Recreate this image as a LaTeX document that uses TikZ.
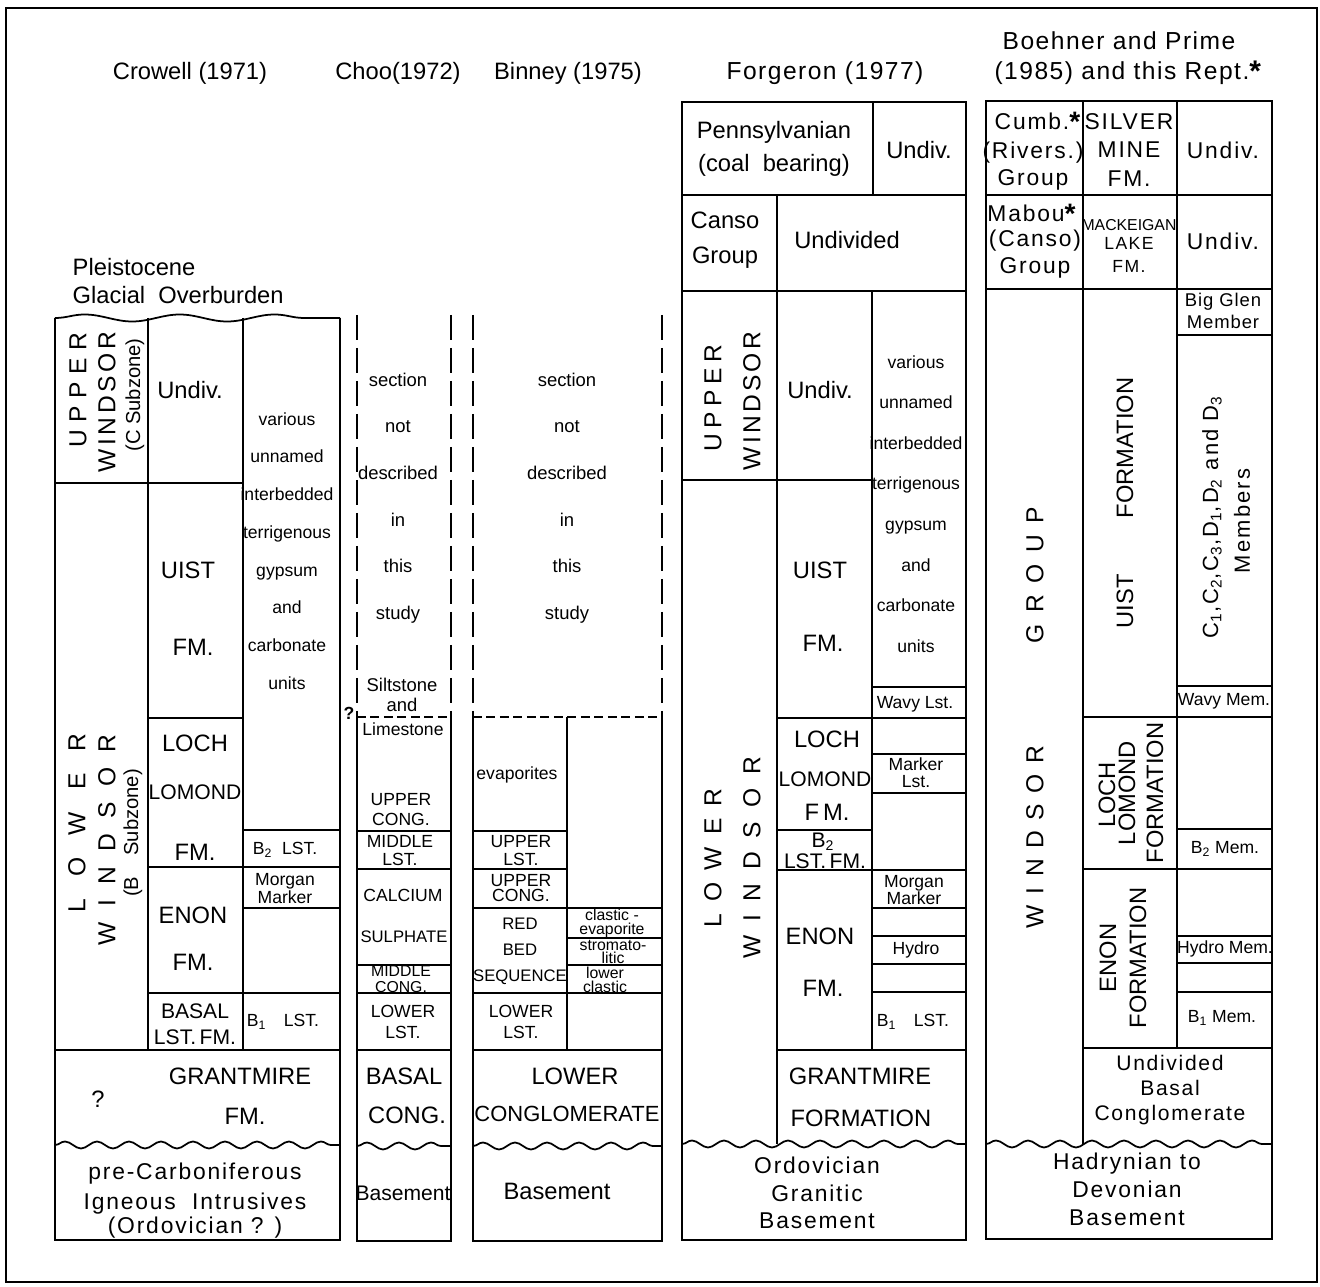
\documentclass[tikz,border=0pt]{standalone}
\usepackage{fontspec}
\setmainfont{Liberation Sans}
\usetikzlibrary{decorations.pathmorphing}

\tikzset{
  ttl/.style={font=\fontsize{13.5}{16}\selectfont},
  ttlb/.style={font=\fontsize{14}{16}\selectfont\addfontfeature{LetterSpace=6}},
  unit/.style={font=\fontsize{13.5}{#1}\selectfont},
  unit/.default=16,
  midf/.style={font=\fontsize{12}{#1}\selectfont},
  midf/.default=14,
  sm/.style={font=\fontsize{10}{#1}\selectfont},
  sm/.default=11,
  xs/.style={font=\fontsize{9}{#1}\selectfont},
  xs/.default=9,
  wide/.style={font=\fontsize{13}{#1}\selectfont\addfontfeature{LetterSpace=8}},
  wide/.default=15,
  vert/.style={rotate=90, font=\fontsize{14}{14}\selectfont\addfontfeature{LetterSpace=#1}},
  vert/.default=0,
  wavy/.style={decorate, decoration={snake, segment length=0.64cm, amplitude=0.07cm}},
  dashv/.style={dash pattern=on 0.5cm off 0.16cm},
  dashh/.style={dash pattern=on 0.18cm off 0.09cm},
}

\begin{document}
\begin{tikzpicture}[x=0.02cm, y=-0.02cm, line width=1pt]
  \useasboundingbox (0,0) rectangle (1320,1287);
  \draw[line width=1.2pt] (6,8) rectangle (1317,1282);

  % titles
  \node[ttl] (crowell) at (190,73) {Crowell (1971)};
  \node[ttl] (choo) at (398,73) {Choo(1972)};
  \node[ttl] (binney) at (568,73) {Binney (1975)};
  \node[ttlb] (forgeron) at (825,73) {Forgeron (1977)};
  \node[ttlb] (boehner) at (1119,41) {Boehner and Prime};
  \node[ttlb] (rept) at (1122,73) {(1985) and this Rept.\rlap{\raisebox{-1pt}{\fontsize{17}{17}\selectfont\textbf{*}}}};
  \node[ttl, anchor=west] (pleist) at (66,267) {Pleistocene};
  \node[ttl, anchor=west] (glacial) at (66,295) {Glacial\ \ Overburden};

  % Crowell (1971)
  \draw (55,318) -- (55,1240) -- (340,1240) -- (340,318);
  \draw[decorate, decoration={snake, segment length=1.9cm, amplitude=0.07cm}] (55,318) -- (340,318);
  \draw (148,318) -- (148,1050) (243,318) -- (243,1050);
  \draw (55,483) -- (243,483) (148,718) -- (243,718) (243,830) -- (340,830)
        (148,867) -- (340,867) (243,908) -- (340,908) (148,993) -- (340,993)
        (55,1050) -- (340,1050);
  \draw[wavy] (55,1145) -- (340,1145);

  \node[vert=30] (cuw1) at (78,390) {UPPER};
  \node[vert=15] (cuw2) at (107,402) {WINDSOR};
  \node[rotate=90, font=\fontsize{11.5}{12}\selectfont] (cuw3) at (135,395) {(C Subzone)};
  \node[vert=90] (clw1) at (77,823) {LOWER};
  \node[vert=62] (clw2) at (107,840) {WINDSOR};
  \node[rotate=90, font=\fontsize{11.5}{12}\selectfont] (clw3) at (133,833) {(B\hspace{12pt}Subzone)};
  \node[unit] (cund) at (190,390) {Undiv.};
  \node[sm=21.5, align=center] (cvar) at (287,551) {various\\unnamed\\interbedded\\terrigenous\\gypsum\\and\\carbonate\\units};
  \node[unit] (cuist) at (188,570) {UIST};
  \node[unit] (cuistfm) at (193,647) {FM.};
  \node[unit] (cloch) at (195,743) {LOCH};
  \node[midf] (clomond) at (195,792) {LOMOND};
  \node[unit] (clochfm) at (195,852) {FM.};
  \node[sm] (cb2) at (285,850) {B\textsubscript{2}\ \ LST.};
  \node[sm=10.2, align=center] (cmorgan) at (285,889) {Morgan\\Marker};
  \node[unit] (cenon) at (193,915) {ENON};
  \node[unit] (cenonfm) at (193,962) {FM.};
  \node[midf=14.8, align=center] (cbasal) at (195,1024) {BASAL\\LST.\,FM.};
  \node[sm] (cb1) at (283,1022) {B\textsubscript{1}\quad LST.};
  \node[unit] (cq) at (98,1099) {?};
  \node[unit] (cgrant) at (240,1076) {GRANTMIRE};
  \node[unit] (cgrantfm) at (245,1116) {FM.};
  \node[wide] (cpre) at (195,1174) {pre-Carboniferous};
  \node[wide] (cign) at (195,1204) {Igneous\ \ Intrusives};
  \node[wide] (cord) at (195,1228) {(Ordovician ? )};

  % Choo (1972)
  \draw[dashv] (357,315) -- (357,717) (451,315) -- (451,717);
  \draw[dashh] (357,717) -- (451,717);
  \draw (357,717) -- (357,1241) -- (451,1241) -- (451,717);
  \draw (357,831) -- (451,831) (357,869) -- (451,869) (357,965) -- (451,965)
        (357,993) -- (451,993) (357,1050) -- (451,1050);
  \draw[wavy] (357,1146) -- (451,1146);

  \node[font=\fontsize{10.5}{26.5}\selectfont, align=center] (chsec) at (398,498) {section\\not\\described\\in\\this\\study};
  \node[font=\fontsize{10.5}{11.4}\selectfont, align=center] (chsilt) at (402,695) {Siltstone\\and};
  \node[font=\bfseries\fontsize{10}{10}\selectfont] (chq) at (349,713) {?};
  \node[sm] (chlime) at (403,729) {Limestone};
  \node[sm=11.4, align=center] (chupc) at (401,810) {UPPER\\CONG.};
  \node[sm=10.2, align=center] (chmidl) at (400,851) {MIDDLE\\LST.};
  \node[sm] (chcalc) at (403,895) {CALCIUM};
  \node[font=\fontsize{9.5}{10}\selectfont] (chsulph) at (404,937) {SULPHATE};
  \node[xs=9.5, align=center] (chmidc) at (401,979) {MIDDLE\\CONG.};
  \node[sm=12, align=center] (chlowl) at (403,1022) {LOWER\\LST.};
  \node[unit] (chbasal) at (404,1076) {BASAL};
  \node[unit] (chcong) at (407,1115) {CONG.};
  \node[midf] (chbase) at (403,1193) {Basement};

  % Binney (1975)
  \draw[dashv] (473,315) -- (473,717) (662,315) -- (662,717);
  \draw[dashh] (473,717) -- (662,717);
  \draw (473,717) -- (473,1241) -- (662,1241) -- (662,717);
  \draw (567,717) -- (567,1050);
  \draw (473,831) -- (567,831) (473,869) -- (567,869) (473,908) -- (662,908)
        (567,938) -- (662,938) (567,965) -- (662,965) (473,993) -- (662,993)
        (473,1050) -- (662,1050);
  \draw[wavy] (473,1146) -- (662,1146);

  \node[font=\fontsize{10.5}{26.5}\selectfont, align=center] (bisec) at (567,498) {section\\not\\described\\in\\this\\study};
  \node[sm] (bievap) at (517,775) {evaporites};
  \node[sm=10.2, align=center] (biupl) at (521,851) {UPPER\\LST.};
  \node[sm=9, align=center] (biupc) at (521,888) {UPPER\\CONG.};
  \node[font=\fontsize{9.5}{14.8}\selectfont, align=center] (bired) at (520,951) {RED\\BED\\SEQUENCE};
  \node[sm=12, align=center] (bilowl) at (521,1022) {LOWER\\LST.};
  \node[xs=8, align=center] (biclev) at (612,923) {clastic -\\evaporite};
  \node[xs=6.5, align=center] (bistrom) at (613,952) {stromato-\\litic};
  \node[xs=8, align=center] (bilowc) at (605,980) {lower\\clastic};
  \node[unit] (bilower) at (575,1076) {LOWER};
  \node[font=\fontsize{12.5}{14}\selectfont] (biconglo) at (567,1114) {CONGLOMERATE};
  \node[unit] (bibase) at (557,1191) {Basement};

  % Forgeron (1977)
  \draw (682,102) rectangle (966,1240);
  \draw (873,102) -- (873,195) (682,195) -- (966,195) (777,195) -- (777,291)
        (682,291) -- (966,291);
  \draw (777,291) -- (777,1144) (872,291) -- (872,1050);
  \draw (682,480) -- (872,480) (872,687) -- (966,687) (777,718) -- (966,718)
        (872,754) -- (966,754) (872,793) -- (966,793) (777,830) -- (872,830)
        (777,870) -- (966,870) (872,908) -- (966,908) (872,936) -- (966,936)
        (872,964) -- (966,964) (872,992) -- (966,992) (777,1050) -- (966,1050);
  \draw[wavy] (682,1144) -- (966,1144);

  \node[unit=18.8, align=center] (fpenn) at (774,149) {Pennsylvanian\\(coal\ \ bearing)};
  \node[unit] (fpund) at (919,150) {Undiv.};
  \node[unit=20, align=center] (fcanso) at (725,240) {Canso\\Group};
  \node[unit] (fcund) at (847,240) {Undivided};
  \node[vert=22] (fuw1) at (713,398) {UPPER};
  \node[vert=13] (fuw2) at (752,401) {WINDSOR};
  \node[unit] (fund) at (820,390) {Undiv.};
  \node[sm=23.1, align=center] (fvar) at (916,504) {various\\unnamed\\interbedded\\terrigenous\\gypsum\\and\\carbonate\\units};
  \node[unit] (fuist) at (820,570) {UIST};
  \node[unit] (fuistfm) at (823,643) {FM.};
  \node[sm] (fwavy) at (915,704) {Wavy Lst.};
  \node[vert=50] (flw1) at (713,858) {LOWER};
  \node[vert=56] (flw2) at (752,858) {WINDSOR};
  \node[unit] (floch) at (827,739) {LOCH};
  \node[midf] (flomond) at (825,779) {LOMOND};
  \node[unit] (flochfm) at (827,812) {F\,M.};
  \node[midf] (fb2) at (823,842) {B\textsubscript{2}};
  \node[midf] (fb2fm) at (825,861) {LST.\,FM.};
  \node[sm=9.7, align=center] (fmarker) at (916,773) {Marker\\Lst.};
  \node[sm=9.7, align=center] (fmorgan) at (914,890) {Morgan\\Marker};
  \node[sm] (fhydro) at (916,950) {Hydro};
  \node[sm] (fb1) at (913,1022) {B\textsubscript{1}\quad LST.};
  \node[unit] (fenon) at (820,936) {ENON};
  \node[unit] (fenonfm) at (823,988) {FM.};
  \node[unit] (fgrant) at (860,1076) {GRANTMIRE};
  \node[unit] (fform) at (861,1118) {FORMATION};
  \node[wide=15.6, align=center] (fbase) at (817,1193) {Ordovician\\Granitic\\Basement};

  % Boehner and Prime (1985)
  \draw (986,101) rectangle (1272,1239);
  \draw (1083,101) -- (1083,1144) (1177,101) -- (1177,1048);
  \draw (986,195) -- (1272,195) (986,289) -- (1272,289);
  \draw (1177,335) -- (1272,335) (1177,686) -- (1272,686) (1083,717) -- (1272,717)
        (1177,829) -- (1272,829) (1083,869) -- (1272,869) (1177,936) -- (1272,936)
        (1177,963) -- (1272,963) (1177,992) -- (1272,992) (1083,1048) -- (1272,1048);
  \draw[wavy] (986,1144) -- (1272,1144);

  \node[wide] (bcumb) at (1032,122) {Cumb.\rlap{\raisebox{-1pt}{\fontsize{16}{16}\selectfont\textbf{*}}}};
  \node[wide=15, align=center] (briv) at (1033,166) {(Rivers.)\\Group};
  \node[wide=16.2, align=center] (bsilver) at (1129,150) {SILVER\\MINE\\FM.};
  \node[wide] (bund1) at (1223,150) {Undiv.};
  \node[wide] (bmabou) at (1026,214) {Mabou\rlap{\raisebox{-1pt}{\fontsize{16}{16}\selectfont\textbf{*}}}};
  \node[wide=15, align=center] (bcanso) at (1035,254) {(Canso)\\Group};
  \node[font=\fontsize{9}{9}\selectfont] (bmack) at (1129,225) {MACKEIGAN};
  \node[font=\fontsize{10}{13}\selectfont\addfontfeature{LetterSpace=8}, align=center] (blake) at (1129,255) {LAKE\\FM.};
  \node[wide] (bund2) at (1223,241) {Undiv.};
  \node[font=\fontsize{10.5}{12.5}\selectfont\addfontfeature{LetterSpace=5}, align=center] (bbig) at (1223,311) {Big Glen\\Member};
  \node[vert=47] (bgroup) at (1035,575) {GROUP};
  \node[vert=43] (bwind) at (1035,837) {WINDSOR};
  \node[rotate=90, unit] (buist) at (1125,503) {UIST\hspace{32pt}FORMATION};
  \node[rotate=90, font=\fontsize{12.5}{13}\selectfont\addfontfeature{LetterSpace=10}] (bcd) at (1212,517)
    {C\textsubscript{1},C\textsubscript{2},C\textsubscript{3},D\textsubscript{1},D\textsubscript{2} and D\textsubscript{3}};
  \node[rotate=90, font=\fontsize{12.5}{13}\selectfont\addfontfeature{LetterSpace=10}] (bmem) at (1242,521) {Members};
  \node[sm] (bwavy) at (1224,701) {Wavy Mem.};
  \node[rotate=90, unit] (bloch) at (1107,795) {LOCH};
  \node[rotate=90, unit] (blomond) at (1127,793) {LOMOND};
  \node[rotate=90, unit] (blochf) at (1155,793) {FORMATION};
  \node[sm] (bb2) at (1225,849) {B\textsubscript{2} Mem.};
  \node[rotate=90, unit] (benon) at (1108,958) {ENON};
  \node[rotate=90, unit] (benonf) at (1138,958) {FORMATION};
  \node[sm] (bhydro) at (1225,949) {Hydro Mem.};
  \node[sm] (bb1) at (1222,1018) {B\textsubscript{1} Mem.};
  \node[font=\fontsize{12}{14}\selectfont\addfontfeature{LetterSpace=8}, align=center] (bbasal) at (1170,1090) {Undivided\\Basal\\Conglomerate};
  \node[wide=16, align=center] (bbase) at (1127,1189) {Hadrynian to\\Devonian\\Basement};
\end{tikzpicture}
\end{document}
